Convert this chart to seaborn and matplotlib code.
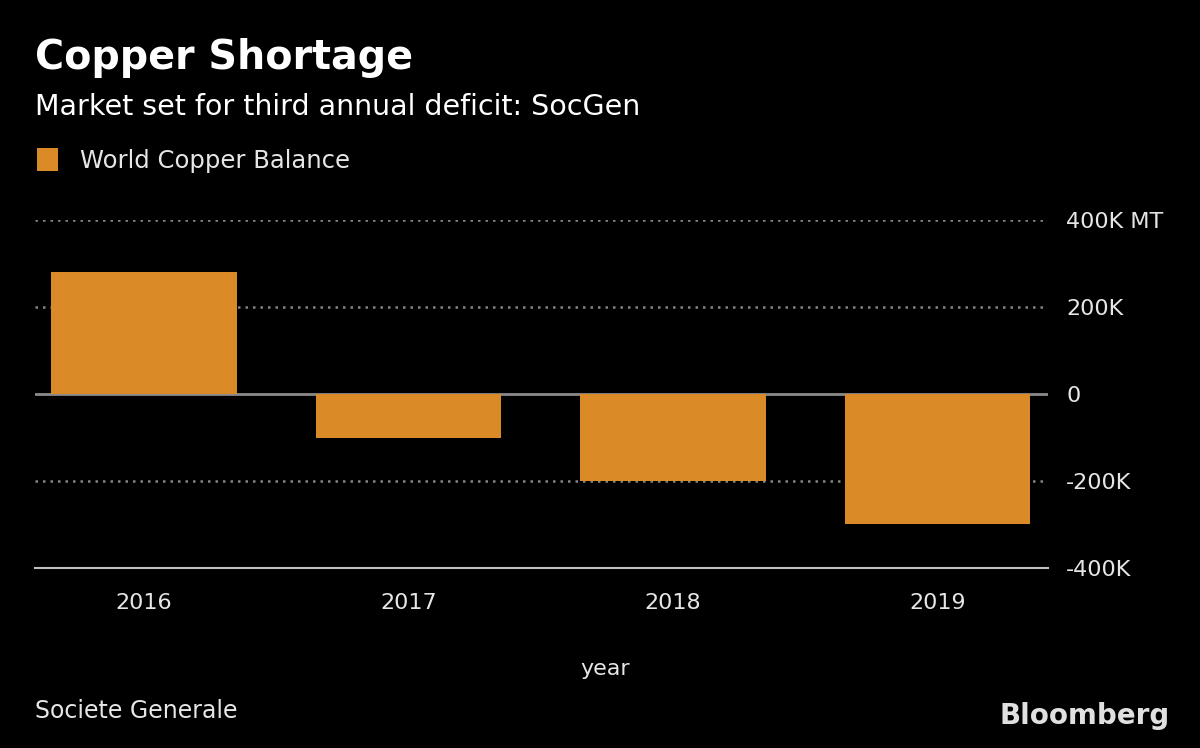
import matplotlib.pyplot as plt
import seaborn as sns
import pandas as pd

# World copper balance, thousand metric tons
years = ["2016", "2017", "2018", "2019"]
balance = [280, -100, -200, -298]
y_ticks = [-400, -200, 0, 200, 400]
y_tick_labels = ["-400K", "-200K", "0", "200K", "400K MT"]

df = pd.DataFrame({"year": years, "balance": balance})

bar_color = "#DA8A26"
text_color = "#E6E6E6"

sns.set_theme(style="dark")
plt.rcParams["font.family"] = ["DejaVu Sans"]

fig = plt.figure(figsize=(12, 7.48), dpi=100, facecolor="black")
ax = fig.add_axes([0.0292, 0.2406, 0.8441, 0.4653], facecolor="black")

sns.barplot(data=df, x="year", y="balance", color=bar_color, width=0.7,
            saturation=1, linewidth=0, ax=ax, zorder=3)

ax.set_xlim(-0.412, 3.418)
ax.set_ylim(-400, 400)

# Grid lines: dotted, zero line solid
for v in y_ticks:
    if v == 0:
        ax.axhline(v, color="#8A8A8A", lw=2, zorder=2)
    elif v == -400:
        continue
    else:
        ax.axhline(v, color="#858585", lw=1.8, ls=(0, (1.0, 2.0)), zorder=1)

for s in ["top", "left", "right"]:
    ax.spines[s].set_visible(False)
ax.spines["bottom"].set_color("#BFBFBF")
ax.spines["bottom"].set_linewidth(1.5)

ax.yaxis.tick_right()
ax.set_yticks(y_ticks)
ax.set_yticklabels(y_tick_labels)
ax.tick_params(axis="y", length=0, pad=13, labelsize=16, labelcolor=text_color)
ax.tick_params(axis="x", length=0, pad=18, labelsize=16, labelcolor=text_color)
ax.set_ylabel("")
ax.set_xlabel("year", fontsize=16, color=text_color)
ax.xaxis.set_label_coords(0.563, -0.262)
ax.grid(False)

# Titles
fig.text(0.029, 0.922, "Copper Shortage", fontsize=28.5, fontweight="bold",
         color="white", va="center", ha="left")
fig.text(0.029, 0.857, "Market set for third annual deficit: SocGen", fontsize=20.5,
         color="white", va="center", ha="left")

# Legend
leg = fig.legend(handles=[ax.patches[0]], labels=["World Copper Balance"],
                 loc="center left", bbox_to_anchor=(0.013, 0.786), frameon=False,
                 fontsize=17.5, handlelength=0.85, handleheight=1.1, handletextpad=0.9)
for t in leg.get_texts():
    t.set_color(text_color)

# Footer
fig.text(0.029, 0.049, "Societe Generale", fontsize=17, color=text_color,
         va="center", ha="left")
fig.text(0.975, 0.043, "Bloomberg", fontsize=20, fontweight="bold", color="#E0E0E0",
         va="center", ha="right")

fig.savefig("out.png", dpi=100, facecolor="black")
